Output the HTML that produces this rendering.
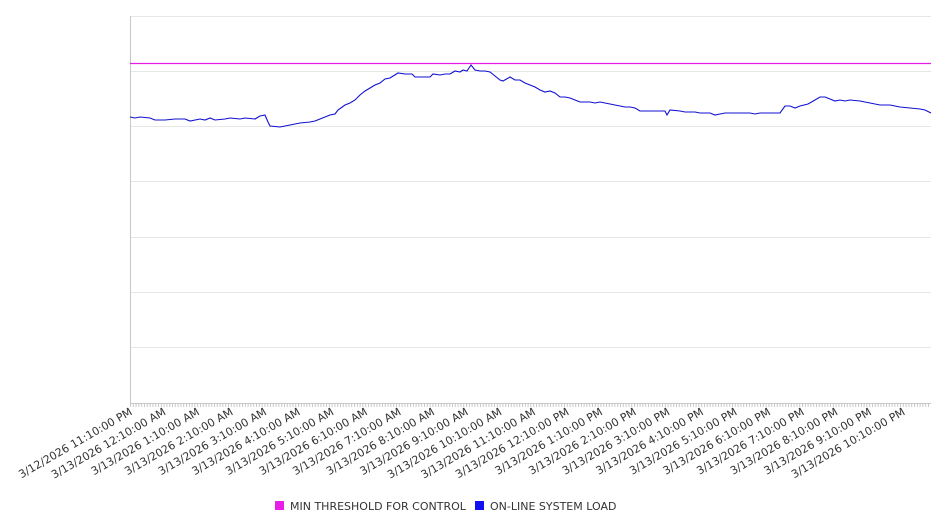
<!DOCTYPE html><html><head><style>body{margin:0;background:#fff;}svg{display:block;font-family:"DejaVu Sans","Liberation Sans",sans-serif;}</style></head><body>
<svg width="946" height="526" viewBox="0 0 946 526">
<g stroke="#e6e6e6" stroke-width="1">
<line x1="130" x2="931" y1="16.5" y2="16.5"/><line x1="130" x2="931" y1="71.5" y2="71.5"/><line x1="130" x2="931" y1="126.5" y2="126.5"/><line x1="130" x2="931" y1="181.5" y2="181.5"/><line x1="130" x2="931" y1="237.5" y2="237.5"/><line x1="130" x2="931" y1="292.5" y2="292.5"/><line x1="130" x2="931" y1="347.5" y2="347.5"/>
</g>
<line x1="130.5" x2="130.5" y1="16" y2="404" stroke="#c8c8c8"/>
<line x1="130" x2="931" y1="403.5" y2="403.5" stroke="#c8c8c8"/>
<path id="ticks" stroke="#c8c8c8" stroke-width="1" d=""/>
<line x1="130" x2="931" y1="63.5" y2="63.5" stroke="#e61ee6" stroke-width="1.2"/>
<polyline fill="none" stroke="#1010d0" stroke-width="1.1" points="130,117 135,118 140,117 150,118 155,120 165,120 175,119 185,119 190,121 200,119 205,120 210,118 215,120 225,119 230,118 240,119 245,118 255,119 260,116 265,115 268,122 270,126 280,127 290,125 300,123 310,122 315,121 320,119 330,115 335,114 338,110 345,105 350,103 355,100 360,95 365,91 370,88 375,85 380,83 385,79 390,78 398,73 405,74 412,74 415,77 425,77 430,77 433,74 440,75 445,74 450,74 455,71 460,72 463,70 467,71 471,65 475,70 480,71 485,71 490,72 495,76 500,80 503,81 510,77 515,80 520,80 525,83 535,87 540,90 545,92 550,91 555,93 560,97 565,97 570,98 575,100 580,102 590,102 595,103 600,102 605,103 610,104 620,106 625,107 630,107 635,108 640,111 665,111 667,115 670,110 680,111 685,112 695,112 700,113 710,113 715,115 720,114 725,113 750,113 755,114 760,113 780,113 785,106 790,106 795,108 800,106 808,104 815,100 820,97 825,97 830,99 835,101 840,100 845,101 850,100 860,101 870,103 880,105 890,105 900,107 910,108 920,109 925,110 931,113"/>
<g id="labels" font-size="11" fill="#333" text-anchor="end"></g>
<rect x="275" y="501" width="9" height="9" fill="#e61ee6"/>
<text x="290" y="510" font-size="11" fill="#333">MIN THRESHOLD FOR CONTROL</text>
<rect x="475" y="501" width="9" height="9" fill="#1010f0"/>
<text x="490" y="510" font-size="11" fill="#333">ON-LINE SYSTEM LOAD</text>
</svg>
<script>
var d="";for(var x=130.5;x<931;x+=2.8){d+="M"+x.toFixed(1)+" 403V407";}
document.getElementById("ticks").setAttribute("d",d);
var g=document.getElementById("labels"),ns="http://www.w3.org/2000/svg";
var names=["3/12/2026 11:10:00 PM"];
var h=["12","1","2","3","4","5","6","7","8","9","10","11"];
for(var i=0;i<12;i++)names.push("3/13/2026 "+h[i]+":10:00 AM");
for(var i=0;i<11;i++)names.push("3/13/2026 "+h[i]+":10:00 PM");
for(var i=0;i<names.length;i++){var x=133+i*33.6;var t=document.createElementNS(ns,"text");t.setAttribute("x",x);t.setAttribute("y",414);t.setAttribute("transform","rotate(-30 "+x+" 414)");t.textContent=names[i];g.appendChild(t);}
</script>
</body></html>
